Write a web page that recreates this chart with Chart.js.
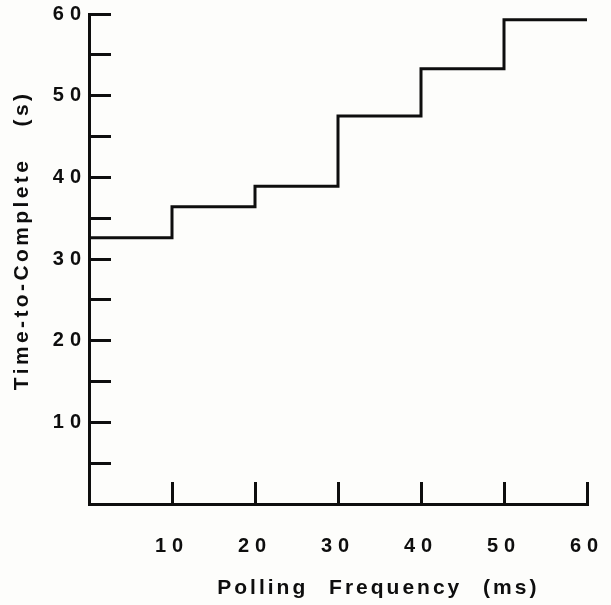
<!DOCTYPE html>
<html>
<head>
<meta charset="utf-8">
<script src="https://cdn.jsdelivr.net/npm/chart.js@4.4.1/dist/chart.umd.min.js"></script>
<style>
  html, body { margin: 0; padding: 0; background: #fdfdfb; }
  #wrap { width: 611px; height: 605px; position: relative; }
</style>
</head>
<body>
<div id="wrap"><canvas id="c" width="611" height="605"></canvas></div>
<script>
// Step start positions (ms) and the time-to-complete level for each step (s)
const stepStarts = [0, 10, 20, 30, 40, 50];
const stepLevels = [32.6, 36.4, 38.9, 47.5, 53.3, 59.3];
const stepEnd = 60;
const xTickValues = [10, 20, 30, 40, 50, 60];
const yTickValues = [10, 20, 30, 40, 50, 60];
const xTitle = 'Polling Frequency (ms)';
const yTitle = 'Time-to-Complete (s)';

const points = stepStarts.map((x, i) => ({ x: x, y: stepLevels[i] }));
points.push({ x: stepEnd, y: stepLevels[stepLevels.length - 1] });

const FONT = '"Liberation Sans", Arial, Helvetica, sans-serif';
const INK = '#0e0e0e';
const TICK_LS = 6;

const stylePlugin = {
  id: 'style',
  beforeUpdate(chart) { chart.ctx.letterSpacing = TICK_LS + 'px'; },
  beforeDraw(chart) {
    const ctx = chart.ctx;
    ctx.save();
    ctx.fillStyle = '#fdfdfb';
    ctx.fillRect(0, 0, chart.width, chart.height);
    ctx.restore();
    ctx.letterSpacing = TICK_LS + 'px';
  },
  afterDraw(chart) {
    const ctx = chart.ctx;
    const a = chart.chartArea;
    ctx.save();
    ctx.fillStyle = INK;
    ctx.font = 'bold 21px ' + FONT;
    ctx.textAlign = 'center';
    ctx.textBaseline = 'middle';
    // x title
    ctx.letterSpacing = '3px';
    ctx.wordSpacing = '12px';
    ctx.fillText(xTitle, a.left + (a.right - a.left) * 0.578 + 1.5, a.bottom + 84);
    // y title
    ctx.letterSpacing = '3.4px';
    ctx.wordSpacing = '22px';
    ctx.translate(a.left - 67, a.top + (a.bottom - a.top) * 0.4655);
    ctx.rotate(-Math.PI / 2);
    ctx.fillText(yTitle, 1.7, 0);
    ctx.restore();
  }
};

new Chart(document.getElementById('c'), {
  type: 'line',
  data: {
    datasets: [{
      data: points,
      stepped: 'before',
      borderColor: INK,
      borderWidth: 3,
      pointRadius: 0,
      fill: false
    }]
  },
  options: {
    responsive: false,
    animation: false,
    events: [],
    layout: { padding: { left: 0, right: 24, top: 14, bottom: 0 } },
    plugins: { legend: { display: false }, tooltip: { enabled: false } },
    scales: {
      x: {
        type: 'linear', min: 0, max: 60,
        afterFit(s) { s.height = 101; s.paddingLeft = 0; s.paddingRight = 0; },
        border: { display: true, color: INK, width: 3 },
        grid: { display: true, drawOnChartArea: false, drawTicks: true, tickLength: -22, tickWidth: 3, tickColor: INK, color: INK },
        ticks: {
          stepSize: 10, padding: 52, maxRotation: 0, autoSkip: false,
          font: { family: FONT, size: 20, weight: 'bold' }, color: INK,
          callback: v => xTickValues.includes(v) ? String(v) : ''
        }
      },
      y: {
        type: 'linear', min: 0, max: 60,
        afterFit(s) { s.width = 89; s.paddingTop = 0; s.paddingBottom = 0; },
        border: { display: true, color: INK, width: 3 },
        grid: { display: true, drawOnChartArea: false, drawTicks: true, tickLength: -22, tickWidth: 3, tickColor: INK, color: INK },
        ticks: {
          stepSize: 5, padding: 24, autoSkip: false,
          font: { family: FONT, size: 20, weight: 'bold' }, color: INK,
          callback: v => yTickValues.includes(v) ? String(v) : ''
        }
      }
    }
  },
  plugins: [stylePlugin]
});
</script>
</body>
</html>
